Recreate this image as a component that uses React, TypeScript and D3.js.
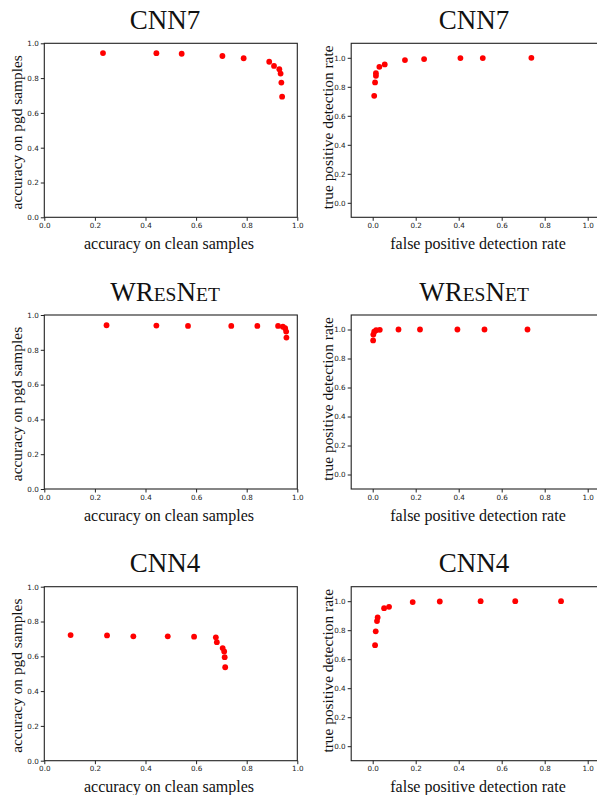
import React, { useRef, useEffect } from "react";
import * as d3 from "d3";

// accuracy on clean vs pgd samples
const cnn7Clean = [0.232, 0.443, 0.543, 0.704, 0.788, 0.889, 0.908, 0.929, 0.934, 0.937, 0.94];
const cnn7Pgd = [0.944, 0.943, 0.94, 0.927, 0.914, 0.894, 0.87, 0.851, 0.826, 0.774, 0.693];
const wresClean = [0.246, 0.443, 0.568, 0.739, 0.842, 0.924, 0.943, 0.952, 0.956, 0.957];
const wresPgd = [0.941, 0.939, 0.937, 0.937, 0.937, 0.937, 0.933, 0.924, 0.905, 0.87];
const cnn4Clean = [0.104, 0.248, 0.352, 0.488, 0.592, 0.678, 0.682, 0.705, 0.711, 0.713, 0.715];
const cnn4Pgd = [0.722, 0.72, 0.715, 0.715, 0.713, 0.709, 0.681, 0.647, 0.628, 0.595, 0.537];

// detection rates
const cnn7Fpr = [0.007, 0.011, 0.015, 0.015, 0.031, 0.056, 0.15, 0.239, 0.408, 0.512, 0.738];
const cnn7Tpr = [0.738, 0.83, 0.876, 0.894, 0.938, 0.954, 0.984, 0.991, 0.998, 0.998, 1.0];
const wresFpr = [0.002, 0.003, 0.007, 0.016, 0.033, 0.12, 0.22, 0.394, 0.52, 0.72];
const wresTpr = [0.925, 0.965, 0.985, 0.995, 0.998, 1.0, 1.0, 1.0, 1.0, 1.0];
const cnn4Fpr = [0.011, 0.014, 0.02, 0.023, 0.053, 0.076, 0.186, 0.312, 0.502, 0.663, 0.876];
const cnn4Tpr = [0.697, 0.792, 0.863, 0.888, 0.952, 0.961, 0.994, 0.998, 1.0, 1.0, 1.0];

const tickVals = [0, 0.2, 0.4, 0.6, 0.8, 1.0];

const serif = "'Liberation Serif', 'Times New Roman', serif";
const sans = "'DejaVu Sans', sans-serif";

const Panel = ({ xs, ys, left, top, width, height, domain, title, xLabel, yLabel, yLabelX, yLabelDy, titleX }) => {
  const gRef = useRef();

  useEffect(() => {
    const g = d3.select(gRef.current);
    g.selectAll("*").remove();

    const x = d3.scaleLinear().domain(domain).range([left, left + width]);
    const y = d3.scaleLinear().domain(domain).range([top + height, top]);

    const xAxis = g
      .append("g")
      .attr("transform", `translate(0,${top + height})`)
      .call(d3.axisBottom(x).tickValues(tickVals).tickFormat(d3.format(".1f")).tickSize(3.5).tickPadding(2));
    const yAxis = g
      .append("g")
      .attr("transform", `translate(${left},0)`)
      .call(d3.axisLeft(y).tickValues(tickVals).tickFormat(d3.format(".1f")).tickSize(3.5).tickPadding(2));

    [xAxis, yAxis].forEach((a) => {
      a.select(".domain").remove();
      a.selectAll("line").attr("stroke", "#222");
      a.selectAll("text").attr("font-family", sans).attr("font-size", 7.2).attr("fill", "#222");
    });

    g.append("rect")
      .attr("x", left)
      .attr("y", top)
      .attr("width", width)
      .attr("height", height)
      .attr("fill", "none")
      .attr("stroke", "#222")
      .attr("stroke-width", 1.1);

    g.selectAll("circle.pt")
      .data(xs.map((v, i) => [v, ys[i]]))
      .enter()
      .append("circle")
      .attr("class", "pt")
      .attr("cx", (d) => x(d[0]))
      .attr("cy", (d) => y(d[1]))
      .attr("r", 2.9)
      .attr("fill", "#ff0000");

    g.append("text")
      .attr("x", titleX + 4)
      .attr("y", top + height + 31.5)
      .attr("text-anchor", "middle")
      .attr("font-family", serif)
      .attr("font-size", 16)
      .attr("fill", "#111")
      .text(xLabel);

    g.append("text")
      .attr("transform", `translate(${yLabelX},${top + height / 2 + yLabelDy}) rotate(-90)`)
      .attr("text-anchor", "middle")
      .attr("font-family", serif)
      .attr("font-size", 15.4)
      .attr("fill", "#111")
      .text(yLabel);

    const t = g
      .append("text")
      .attr("x", titleX)
      .attr("y", top - 14.3)
      .attr("text-anchor", "middle")
      .attr("font-family", serif)
      .attr("font-size", 27)
      .attr("fill", "#111");
    title.forEach(([s, small]) => {
      t.append("tspan").attr("font-size", small ? 19.5 : 27).text(s);
    });
  }, [xs, ys, left, top, width, height, domain, title, xLabel, yLabel, yLabelX, yLabelDy, titleX]);

  return <g ref={gRef}></g>;
};

const rows = [
  { top: 43.3, title: [["CNN7", false]], clean: cnn7Clean, pgd: cnn7Pgd, fpr: cnn7Fpr, tpr: cnn7Tpr },
  {
    top: 315,
    title: [["W", false], ["R", false], ["ES", true], ["N", false], ["ET", true]],
    clean: wresClean,
    pgd: wresPgd,
    fpr: wresFpr,
    tpr: wresTpr,
  },
  { top: 586.7, title: [["CNN4", false]], clean: cnn4Clean, pgd: cnn4Pgd, fpr: cnn4Fpr, tpr: cnn4Tpr },
];

const leftDomain = [0, 1];
const rightDomain = [-0.1, 1.1];

const App = () => {
  return (
    <svg width={597} height={795} style={{ position: "absolute", left: 0, top: 0, background: "#fff" }}>
      {rows.map((r, i) => (
        <g key={i}>
          <Panel
            xs={r.clean}
            ys={r.pgd}
            left={44.3}
            top={r.top}
            width={253}
            height={174}
            domain={leftDomain}
            title={r.title}
            titleX={165}
            xLabel="accuracy on clean samples"
            yLabel="accuracy on pgd samples"
            yLabelX={21.5}
            yLabelDy={2}
          />
          <Panel
            xs={r.fpr}
            ys={r.tpr}
            left={351.2}
            top={r.top}
            width={258}
            height={174}
            domain={rightDomain}
            title={r.title}
            titleX={474}
            xLabel="false positive detection rate"
            yLabel="true positive detection rate"
            yLabelX={333}
            yLabelDy={-3}
          />
        </g>
      ))}
    </svg>
  );
};

export default App;
